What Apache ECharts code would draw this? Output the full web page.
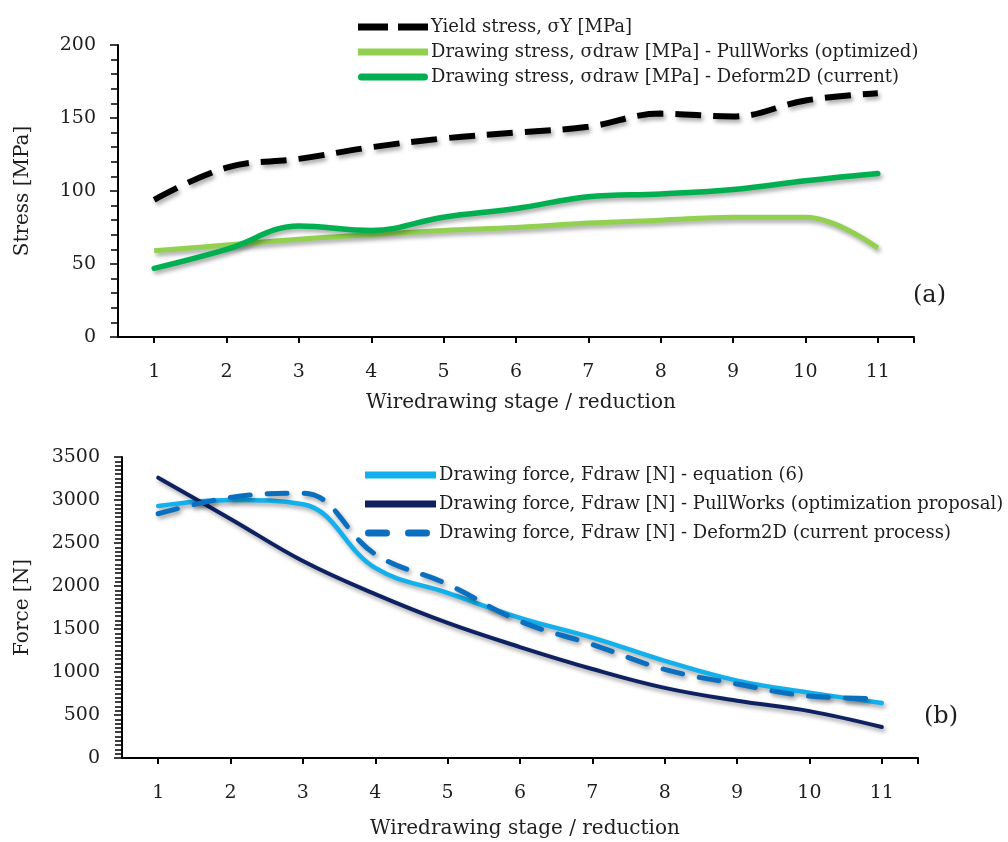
<!DOCTYPE html>
<html>
<head>
<meta charset="utf-8">
<script src="https://cdn.jsdelivr.net/npm/echarts@6/dist/echarts.min.js"></script>
<style>
  html, body { margin: 0; padding: 0; background: #fff; }
  #chart { width: 1008px; height: 842px; }
</style>
</head>
<body>
<div id="chart"></div>
<script>
const stages = [1, 2, 3, 4, 5, 6, 7, 8, 9, 10, 11];

// (a) stresses [MPa]
const yieldStress = [94, 116, 122, 130, 136, 140, 144, 153, 151, 162, 167];
const stressPullWorks = [59, 63, 67, 70, 73, 75, 78, 80, 82, 82, 61];
const stressDeform = [47, 60, 76, 73, 82, 88, 96, 98, 101, 107, 112];

// (b) forces [N]
const forceEquation = [2930, 3000, 2950, 2210, 1920, 1630, 1400, 1130, 900, 760, 640];
const forcePullWorks = [3260, 2780, 2290, 1905, 1570, 1290, 1035, 815, 665, 545, 360];
const forceDeform = [2840, 3030, 3080, 2370, 2020, 1590, 1320, 1030, 860, 720, 690];

const names = [
  "Yield stress, σY [MPa]",
  "Drawing stress, σdraw [MPa] - PullWorks (optimized)",
  "Drawing stress, σdraw [MPa] - Deform2D (current)",
  "Drawing force, Fdraw [N] - equation (6)",
  "Drawing force, Fdraw [N] - PullWorks (optimization proposal)",
  "Drawing force, Fdraw [N] - Deform2D (current process)"
];
const colors = ["#000000", "#92d050", "#00b050", "#12b0ec", "#0e2160", "#0b6fc0"];

const font = "DejaVu Serif";
const txt = "#1e1e1e";

// legend icons: tiny corner dots keep the bounding box at the full item size
function box(w) {
  return "M0,0h0.01v0.01h-0.01z M" + (w - 0.01) + ",19.99h0.01v0.01h-0.01z ";
}
function bar(x, w) {
  return "M" + x + ",6.5h" + w + "v7h-" + w + "z ";
}
function pill(x, w) {
  return "M" + (x + 3.5) + ",6.5h" + (w - 7) + "a3.5,3.5 0 0 1 0,7h-" + (w - 7) + "a3.5,3.5 0 0 1 0,-7z ";
}
const icons = [
  "path://" + box(70) + bar(0, 30) + bar(40, 30),
  "path://" + box(70) + bar(0, 70),
  "path://" + box(70) + pill(0, 70),
  "path://" + box(72) + bar(0, 71),
  "path://" + box(72) + bar(0, 71),
  "path://" + box(72) + pill(0, 25) + pill(40, 25)
];

function legendItems(from, to) {
  const out = [];
  for (let i = from; i < to; i++) {
    out.push({ name: names[i], icon: icons[i], itemStyle: { color: colors[i], borderWidth: 0 } });
  }
  return out;
}

function pairs(vals) {
  return vals.map(function(v, i) {
    return [stages[i], v];
  });
}

function xAxis(gridIndex, gap) {
  return {
    type: "value",
    gridIndex: gridIndex,
    min: 0.5,
    max: 11.5,
    name: "Wiredrawing stage / reduction",
    nameLocation: "middle",
    nameGap: gap,
    nameTextStyle: { fontFamily: font, fontSize: 20, color: txt, padding: [0, 0, 0, 10] },
    axisLine: { lineStyle: { color: "#000", width: 2 } },
    axisTick: {
      customValues: stages.concat([11.5]),
      length: 6,
      lineStyle: { color: "#000", width: 2 }
    },
    axisLabel: {
      customValues: stages,
      margin: 26,
      fontFamily: font,
      fontSize: 19,
      color: txt
    },
    splitLine: { show: false }
  };
}

function yAxis(gridIndex, max, interval, minorSplit, name, gap) {
  return {
    type: "value",
    gridIndex: gridIndex,
    min: 0,
    max: max,
    interval: interval,
    name: name,
    nameLocation: "middle",
    nameGap: gap,
    nameTextStyle: { fontFamily: font, fontSize: 20, color: txt },
    axisLine: { show: true, lineStyle: { color: "#000", width: 2 } },
    axisTick: { show: true, length: 8, lineStyle: { color: "#000", width: 1.5 } },
    minorTick: { show: true, splitNumber: minorSplit, length: 7, lineStyle: { color: "#000", width: 1.5 } },
    axisLabel: {
      margin: 22,
      fontFamily: font,
      fontSize: 19,
      color: txt,
      formatter: function(v) {
        return String(v);
      }
    },
    splitLine: { show: false }
  };
}

const shadow = {
  shadowColor: "rgba(0,0,0,0.35)",
  shadowBlur: 4,
  shadowOffsetX: 2,
  shadowOffsetY: 3
};

function line(i, idx, vals, width, type, cap) {
  return {
    name: names[i],
    type: "line",
    xAxisIndex: idx,
    yAxisIndex: idx,
    data: pairs(vals),
    smooth: 0.4,
    symbol: "none",
    lineStyle: Object.assign({ color: colors[i], width: width, type: type, cap: cap || "butt" }, shadow),
    itemStyle: { color: colors[i] }
  };
}

const chart = echarts.init(document.getElementById("chart"));
chart.setOption({
  backgroundColor: "#fff",
  animation: false,
  title: [
    { text: "(a)", left: 908, top: 279, textStyle: { fontFamily: font, fontSize: 24, fontWeight: "normal", color: txt } },
    { text: "(b)", left: 919, top: 700, textStyle: { fontFamily: font, fontSize: 24, fontWeight: "normal", color: txt } }
  ],
  legend: [
    {
      data: legendItems(0, 3),
      orient: "vertical",
      left: 353,
      top: 12,
      itemWidth: 70,
      itemHeight: 20,
      itemGap: 5,
      selectedMode: false,
      textStyle: { fontFamily: font, fontSize: 18, color: txt, padding: [0, 0, 0, -2] }
    },
    {
      data: legendItems(3, 6),
      orient: "vertical",
      left: 360,
      top: 460,
      itemWidth: 72,
      itemHeight: 20,
      itemGap: 9,
      selectedMode: false,
      textStyle: { fontFamily: font, fontSize: 18, color: txt, padding: [0, 0, 0, -3] }
    }
  ],
  grid: [
    { left: 118, right: 94, top: 45, height: 292 },
    { left: 122, right: 90, top: 457, height: 301 }
  ],
  xAxis: [xAxis(0, 56), xAxis(1, 61)],
  yAxis: [
    yAxis(0, 200, 50, 5, "Stress [MPa]", 85),
    yAxis(1, 3500, 500, 10, "Force [N]", 89)
  ],
  series: [
    line(0, 0, yieldStress, 6, [26, 12]),
    line(1, 0, stressPullWorks, 5, "solid"),
    line(2, 0, stressDeform, 5.5, "solid", "round"),
    line(3, 1, forceEquation, 4.5, "solid", "round"),
    line(4, 1, forcePullWorks, 4, "solid", "round"),
    line(5, 1, forceDeform, 5, [20, 17], "round")
  ]
});
</script>
</body>
</html>
